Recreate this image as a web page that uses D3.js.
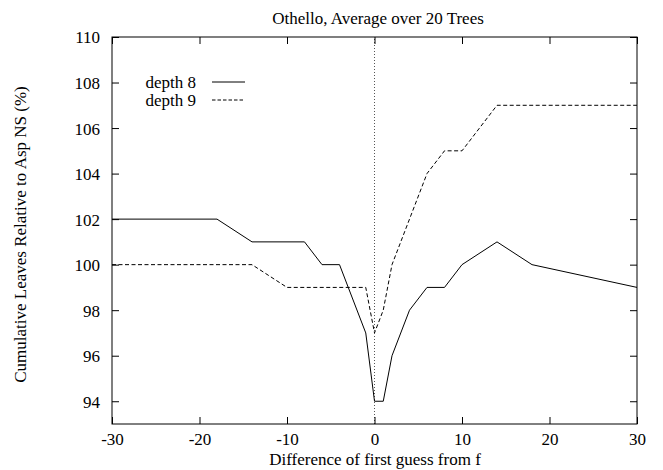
<!DOCTYPE html>
<html>
<head>
<meta charset="utf-8">
<script src="https://cdn.jsdelivr.net/npm/d3@7"></script>
<style>
  body { margin: 0; background: #fff; }
</style>
</head>
<body>
<div id="chart"></div>
<script>

// Difference of first guess from f
const depth8X = [-30, -18, -14, -8, -6, -4, -1, 0, 1, 2, 4, 6, 8, 10, 14, 18, 30];
const depth8Y = [102, 102, 101, 101, 100, 100, 97, 94, 94, 96, 98, 99, 99, 100, 101, 100, 99];

const depth9X = [-30, -14, -10, -1, 0, 1, 2, 4, 6, 8, 10, 14, 30];
const depth9Y = [100, 100, 99, 99, 97, 98, 100, 102, 104, 105, 105, 107, 107];

const xTicks = [-30, -20, -10, 0, 10, 20, 30];
const yTicks = [94, 96, 98, 100, 102, 104, 106, 108, 110];

const seriesNames = ['depth 8', 'depth 9'];

const width  = 663,
      height = 470,
      margin = { top: 37, right: 26, bottom: 46, left: 112 };

const serif    = '"Liberation Serif"',
      fontSize = '17px';

const svg = d3.select('#chart').append('svg')
  .attr('width', width)
  .attr('height', height);

const x = d3.scaleLinear().domain([-30, 30]).range([margin.left, width - margin.right]);
const y = d3.scaleLinear().domain([93, 110]).range([height - margin.bottom, margin.top]);

const tickLen = 7;

// zero line
svg.append('line')
  .attr('x1', x(0)).attr('x2', x(0))
  .attr('y1', y(93)).attr('y2', y(110))
  .attr('stroke', '#555')
  .attr('stroke-width', 1)
  .attr('stroke-dasharray', '1,2');

// axes (ticks inward, mirrored)
const axisBottom = d3.axisBottom(x).tickValues(xTicks).tickSize(-tickLen).tickPadding(9).tickFormat((d) => String(d));
const axisTop    = d3.axisTop(x).tickValues(xTicks).tickSize(-tickLen).tickFormat('');
const axisLeft   = d3.axisLeft(y).tickValues(yTicks).tickSize(-tickLen).tickPadding(12).tickFormat((d) => String(d));
const axisRight  = d3.axisRight(y).tickValues(yTicks).tickSize(-tickLen).tickFormat('');

const gB = svg.append('g').attr('transform', `translate(0,${y(93)})`).call(axisBottom);
const gT = svg.append('g').attr('transform', `translate(0,${y(110)})`).call(axisTop);
const gL = svg.append('g').attr('transform', `translate(${x(-30)},0)`).call(axisLeft);
const gR = svg.append('g').attr('transform', `translate(${x(30)},0)`).call(axisRight);

[gB, gT, gL, gR].forEach((g) => {
  g.select('.domain').remove();
  g.selectAll('line').attr('stroke', '#000');
  g.selectAll('text')
    .style('font-family', serif)
    .style('font-size', fontSize)
    .attr('fill', '#000');
});

gB.selectAll('text').attr('dy', '0.71em');
gL.selectAll('text').attr('dy', '0.35em');

// frame
svg.append('rect')
  .attr('x', x(-30)).attr('y', y(110))
  .attr('width', x(30) - x(-30))
  .attr('height', y(93) - y(110))
  .attr('fill', 'none')
  .attr('stroke', '#000')
  .attr('stroke-width', 1);

// lines
const line = d3.line()
  .x((d) => x(d[0]))
  .y((d) => y(d[1]));

svg.append('path')
  .datum(depth8X.map((v, i) => [v, depth8Y[i]]))
  .attr('d', line)
  .attr('fill', 'none')
  .attr('stroke', '#000')
  .attr('stroke-width', 1);

svg.append('path')
  .datum(depth9X.map((v, i) => [v, depth9Y[i]]))
  .attr('d', line)
  .attr('fill', 'none')
  .attr('stroke', '#000')
  .attr('stroke-width', 1)
  .attr('stroke-dasharray', '4,2.5');

// legend
const legend = svg.append('g');
seriesNames.forEach((name, i) => {
  const ly = 82 + i * 18;
  legend.append('text')
    .attr('x', 196)
    .attr('y', ly)
    .attr('dy', '0.35em')
    .attr('text-anchor', 'end')
    .style('font-family', serif)
    .style('font-size', fontSize)
    .text(name);
  legend.append('line')
    .attr('x1', 212).attr('x2', 245)
    .attr('y1', ly).attr('y2', ly)
    .attr('stroke', '#000')
    .attr('stroke-width', 1)
    .attr('stroke-dasharray', i ? '3.5,2' : null);
});

// titles
const label = (sel) => sel.style('font-family', serif).style('font-size', fontSize).attr('text-anchor', 'middle');

svg.append('text')
  .attr('x', 378).attr('y', 24)
  .call(label)
  .text('Othello, Average over 20 Trees');

svg.append('text')
  .attr('x', 375).attr('y', 465)
  .call(label)
  .text('Difference of first guess from f');

svg.append('text')
  .attr('transform', `translate(26,${(y(93) + y(110)) / 2 + 4}) rotate(-90)`)
  .call(label)
  .text('Cumulative Leaves Relative to Asp NS (%)');

</script>
</body>
</html>
